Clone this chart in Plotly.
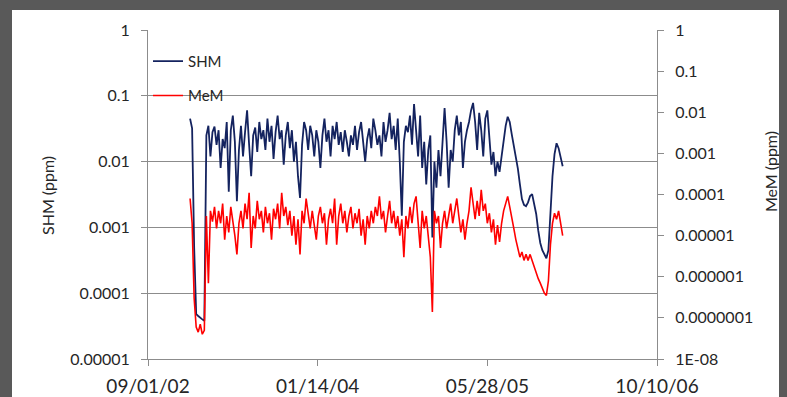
import pandas as pd
import plotly.graph_objects as go

# ---------------- data ----------------
start_date = "2003-01-03"
step = "6D"

shm = [
    0.045, 0.032, 0.0005, 4.8e-5, 4.5e-5, 4.2e-5, 4.0e-5, 3.8e-5, 0.025, 0.035,
    0.012, 0.028, 0.034, 0.018, 0.030, 0.008, 0.022, 0.016, 0.040, 0.0035,
    0.030, 0.050, 0.020, 0.0025, 0.015, 0.035, 0.012, 0.028, 0.060, 0.018,
    0.006, 0.025, 0.033, 0.014, 0.040, 0.022, 0.030, 0.015, 0.045, 0.020,
    0.035, 0.011, 0.028, 0.050, 0.022, 0.030, 0.009, 0.025, 0.040, 0.016,
    0.030, 0.010, 0.020, 0.006, 0.0028, 0.018, 0.040, 0.030, 0.015, 0.035,
    0.025, 0.012, 0.030, 0.020, 0.008, 0.025, 0.045, 0.020, 0.030, 0.012,
    0.035, 0.022, 0.040, 0.018, 0.028, 0.014, 0.030, 0.020, 0.012, 0.025,
    0.018, 0.035, 0.015, 0.028, 0.040, 0.020, 0.010, 0.022, 0.032, 0.016,
    0.045, 0.030, 0.018, 0.025, 0.012, 0.040, 0.020, 0.030, 0.055, 0.022,
    0.035, 0.015, 0.045, 0.010, 0.0015, 0.020, 0.035, 0.028, 0.050, 0.018,
    0.075, 0.030, 0.012, 0.050, 0.008, 0.020, 0.0045, 0.015, 0.025, 0.0007,
    0.010, 0.004, 0.015, 0.006, 0.025, 0.065, 0.020, 0.004, 0.015, 0.010,
    0.030, 0.050, 0.025, 0.040, 0.008, 0.020, 0.030, 0.040, 0.060, 0.078,
    0.040, 0.015, 0.055, 0.030, 0.012, 0.045, 0.060, 0.020, 0.009, 0.014,
    0.006, 0.010, 0.007, 0.012, 0.020, 0.035, 0.048, 0.040, 0.026, 0.018,
    0.012, 0.0078, 0.0045, 0.0027, 0.0022, 0.0021, 0.0024, 0.0030, 0.0032, 0.0023,
    0.0016, 0.0009, 0.00058, 0.00045, 0.00038, 0.00034, 0.00045, 0.0020, 0.0060, 0.013,
    0.019, 0.016, 0.011, 0.0085,
]

mem = [
    8e-5, 2e-5, 3e-7, 6e-8, 4.5e-8, 7e-8, 4e-8, 5e-8, 3e-5, 7e-7,
    4e-5, 2.2e-5, 5e-5, 1.5e-5, 4e-5, 2e-5, 6e-5, 8e-6, 3e-5, 1.2e-5,
    5e-5, 2.5e-5, 1e-5, 3.5e-6, 2e-5, 4e-5, 1.5e-5, 6e-5, 2.5e-5, 1.1e-4,
    5e-6, 3e-5, 1.5e-5, 7e-5, 2.5e-5, 4e-5, 1.2e-5, 5e-5, 2e-5, 3.5e-5,
    8e-6, 4.5e-5, 2.5e-5, 6e-5, 1.5e-5, 1.1e-4, 3e-5, 5e-5, 1.8e-5, 4e-5,
    1e-5, 3e-5, 6e-6, 2.5e-5, 3.5e-6, 4e-5, 2e-5, 8e-5, 3e-5, 1.5e-5,
    4e-5, 2e-5, 8e-6, 3e-5, 5e-5, 2e-5, 3.5e-5, 6e-6, 2.5e-5, 4.5e-5,
    2e-5, 8e-5, 6e-6, 3e-5, 6e-5, 2e-5, 4e-5, 1.2e-5, 3e-5, 5e-5,
    1.5e-5, 3.5e-5, 2e-5, 4.5e-5, 1e-5, 2.5e-5, 6e-6, 3e-5, 1.5e-5, 4e-5,
    2e-5, 5e-5, 3e-5, 9e-5, 2.5e-5, 4e-5, 1.2e-5, 3e-5, 7e-5, 2e-5,
    4e-5, 1.5e-5, 3e-5, 1e-5, 2.5e-5, 3e-6, 3e-5, 1.5e-5, 5e-5, 2e-5,
    6e-5, 9e-5, 2.5e-5, 5e-6, 4e-5, 1.5e-5, 3e-5, 8e-6, 3e-6, 1.4e-7,
    4e-5, 2e-5, 3e-5, 5e-6, 2e-5, 4e-5, 1.5e-5, 3e-5, 6e-5, 2e-5,
    4e-5, 8e-5, 3e-5, 1.2e-5, 2.5e-5, 8e-6, 2e-5, 4e-5, 1.5e-4, 6e-5,
    2.5e-5, 7e-5, 3e-5, 1.3e-4, 4e-5, 6e-5, 2e-5, 3.5e-5, 1.2e-5, 2.5e-5,
    6e-6, 1.8e-5, 7e-6, 2e-5, 4e-5, 6e-5, 9e-5, 5e-5, 3e-5, 1.5e-5,
    8e-6, 5e-6, 3e-6, 4e-6, 2.5e-6, 3.5e-6, 2.5e-6, 3.5e-6, 2.5e-6, 1.8e-6,
    1.2e-6, 9e-7, 7e-7, 5.5e-7, 4e-7, 3.5e-7, 8e-7, 6e-6, 2e-5, 3.5e-5,
    2.5e-5, 4e-5, 2e-5, 1e-5,
]

x_tick_dates = ["2002-09-01", "2004-01-14", "2005-05-28", "2006-10-10"]
x_tick_text = ["09/01/02", "01/14/04", "05/28/05", "10/10/06"]
left_ticks = [1e-5, 1e-4, 1e-3, 1e-2, 1e-1, 1]
left_tick_text = ["0.00001", "0.0001", "0.001", "0.01", "0.1", "1"]
right_ticks = [1e-8, 1e-7, 1e-6, 1e-5, 1e-4, 1e-3, 1e-2, 1e-1, 1]
right_tick_text = ["1E-08", "0.0000001", "0.000001", "0.00001", "0.0001",
                   "0.001", "0.01", "0.1", "1"]

dates = pd.date_range(start=start_date, periods=len(shm), freq=step)

# ---------------- styling ----------------
FONT = "Lato"
TXT = "#262626"
AX = "#8c8c8c"
NAVY = "#14235f"
RED = "#ff0000"
FRAME = "#595959"

fig = go.Figure()
fig.add_trace(go.Scatter(x=dates, y=shm, name="SHM", mode="lines",
                         line=dict(color=NAVY, width=1.8), legendgroup="a"))
fig.add_trace(go.Scatter(x=dates, y=mem, name="MeM", mode="lines", yaxis="y2",
                         line=dict(color=RED, width=1.6), legendgroup="b"))

# the page body keeps its default 8px margin; the figure is sized so that it
# fills the rest of the 787x397 window
fig.update_layout(
    width=779, height=389,
    margin=dict(l=140, r=130, t=22, b=38, pad=0, autoexpand=False),
    paper_bgcolor="white", plot_bgcolor="white",
    font=dict(family=FONT, color=TXT, size=15),
    showlegend=True,
    legend=dict(x=0.0, y=0.955, xanchor="left", yanchor="top",
                bgcolor="rgba(0,0,0,0)", font=dict(size=15, color=TXT),
                tracegroupgap=12, traceorder="grouped"),
    xaxis=dict(type="date", range=["2002-09-01", "2006-10-10"],
               tickvals=x_tick_dates, ticktext=x_tick_text, automargin=False,
               showgrid=False, zeroline=False, showline=True, linecolor=AX,
               linewidth=1, ticks="outside", ticklen=6, tickcolor=AX,
               tickfont=dict(size=19, color=TXT), ticklabelstandoff=4),
    yaxis=dict(type="log", range=[-5, 0], tickvals=left_ticks,
               ticktext=left_tick_text, showgrid=True, gridcolor=AX,
               gridwidth=1, showline=True, linecolor=AX, linewidth=1,
               ticks="outside", ticklen=6, tickcolor=AX, zeroline=False,
               automargin=False,
               tickfont=dict(size=16, color=TXT), ticklabelstandoff=8),
    yaxis2=dict(type="log", range=[-8, 0], tickvals=right_ticks,
                ticktext=right_tick_text, overlaying="y", side="right",
                showgrid=False, showline=True, linecolor=AX, linewidth=1,
                ticks="outside", ticklen=6, tickcolor=AX, zeroline=False,
                automargin=False,
                tickfont=dict(size=16, color=TXT), ticklabelstandoff=8),
)

# axis titles (positions relative to the plot area)
fig.add_annotation(text="SHM (ppm)", xref="paper", yref="paper",
                   x=(47 - 148) / 509, y=(359 - 196) / 329, textangle=-90,
                   showarrow=False, font=dict(size=16, color=TXT),
                   xanchor="center", yanchor="middle")
fig.add_annotation(text="MeM (ppm)", xref="paper", yref="paper",
                   x=(770 - 148) / 509, y=(359 - 172) / 329, textangle=-90,
                   showarrow=False, font=dict(size=16, color=TXT),
                   xanchor="center", yanchor="middle")

# dark screenshot frame (top and left bands)
fig.add_shape(type="rect", xref="paper", yref="paper",
              x0=(0 - 148) / 509, x1=(787 - 148) / 509,
              y0=(359 - 10) / 329, y1=(359 - 0) / 329,
              fillcolor=FRAME, line=dict(width=0), layer="below")
fig.add_shape(type="rect", xref="paper", yref="paper",
              x0=(0 - 148) / 509, x1=(12 - 148) / 509,
              y0=(359 - 397) / 329, y1=(359 - 0) / 329,
              fillcolor=FRAME, line=dict(width=0), layer="below")

fig.write_html(
    "out.html",
    config={"displayModeBar": False},
    post_script="document.body.style.background='" + FRAME + "';",
)
